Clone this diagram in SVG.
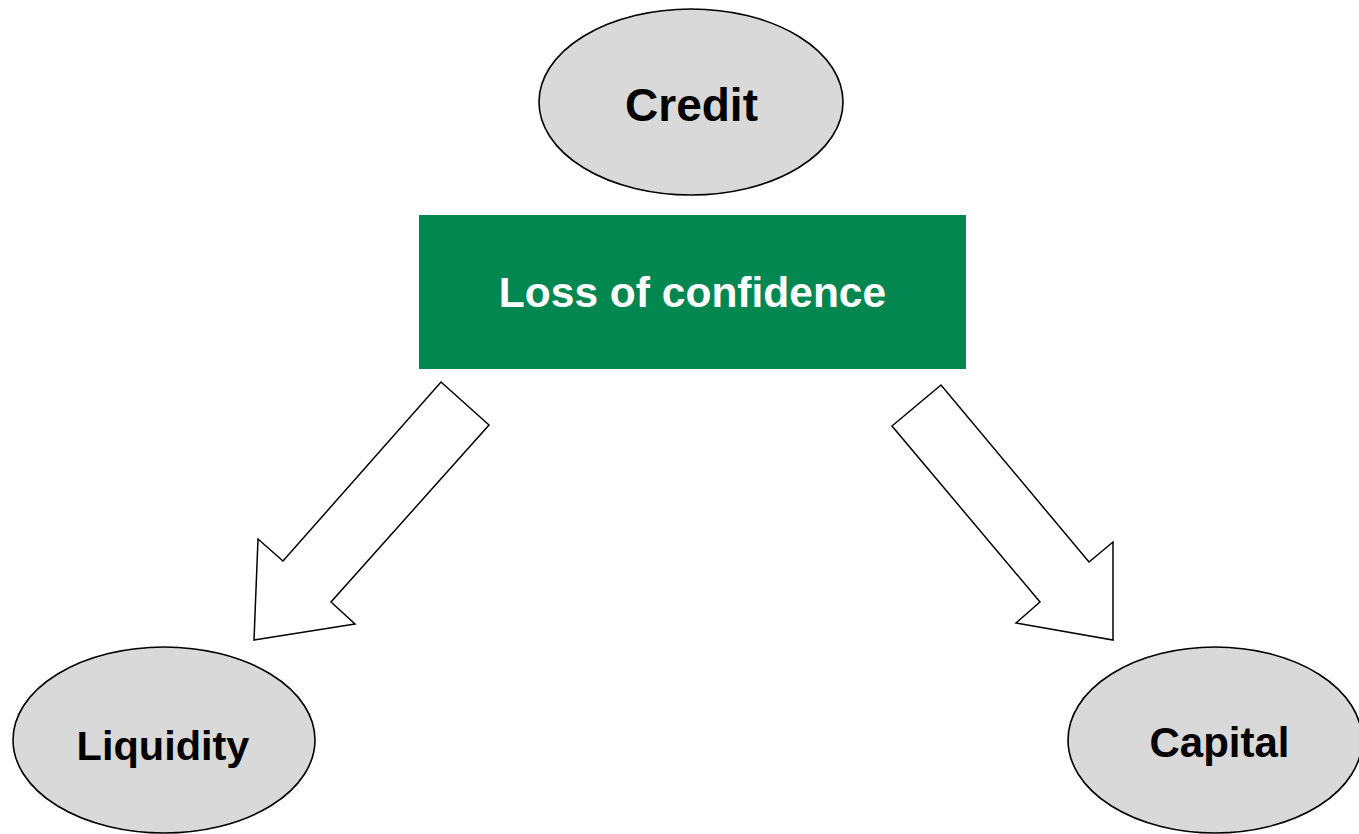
<svg xmlns="http://www.w3.org/2000/svg" width="1359" height="834" viewBox="0 0 1359 834">
<style>
.oval{fill:#d9d9d9;stroke:#000;stroke-width:1.6}
.lbl{font-family:"Liberation Sans",Arial,sans-serif;font-weight:bold;text-anchor:middle;fill:#000}
.arrow{fill:#fff;stroke:#000;stroke-width:1.5;stroke-linejoin:miter}
</style>
<rect width="1359" height="834" fill="#fff"/>
<g id="connectors">
<polygon class="arrow" points="441,382 489,425 331,602 355,624 254,640 258,539 283,561"/>
<polygon class="arrow" points="892,426 941,385 1089,562 1113,542 1113,640 1016,623 1040,602"/>
</g>
<g id="credit">
<ellipse class="oval" cx="691" cy="102" rx="152" ry="93"/>
<text class="lbl" x="691.5" y="121" font-size="46">Credit</text>
</g>
<g id="loss">
<rect x="419" y="215" width="547" height="154" fill="#038751"/>
<text class="lbl" x="692.5" y="307" font-size="42.5" style="fill:#fff">Loss of confidence</text>
</g>
<g id="liquidity">
<ellipse class="oval" cx="164" cy="740" rx="151" ry="93"/>
<text class="lbl" x="163" y="760" font-size="41.5">Liquidity</text>
</g>
<g id="capital">
<ellipse class="oval" cx="1215" cy="740" rx="147" ry="93"/>
<text class="lbl" x="1219.5" y="757" font-size="42">Capital</text>
</g>
</svg>
